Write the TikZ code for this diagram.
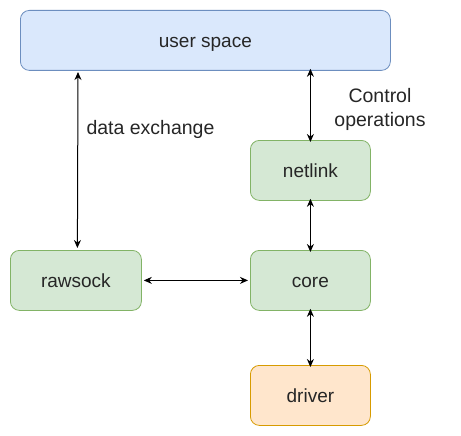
\documentclass[tikz,border=0pt]{standalone}
\usepackage{fontspec}
\setmainfont{Liberation Sans}
\usetikzlibrary{arrows.meta}
\definecolor{bfill}{HTML}{DAE8FC}\definecolor{bline}{HTML}{6C8EBF}
\definecolor{gfill}{HTML}{D5E8D4}\definecolor{gline}{HTML}{82B366}
\definecolor{ofill}{HTML}{FFE6CC}\definecolor{oline}{HTML}{D79B00}
\begin{document}
\begin{tikzpicture}[x=1pt,y=-1pt,
  box/.style={rounded corners=9pt,line width=0.8pt,inner sep=0pt,anchor=north west,
    text height=15pt,text depth=0pt,
    font=\fontsize{19pt}{23pt}\selectfont,text=black!85},
  gbox/.style={box,draw=gline,fill=gfill,minimum width=120pt,minimum height=60pt},
  conn/.style={line width=1pt,{Stealth[length=8pt,width=7pt]}-{Stealth[length=8pt,width=7pt]}},
  lbl/.style={font=\fontsize{19.5pt}{23pt}\selectfont,text=black!85,align=center}]
\useasboundingbox (0,0) rectangle (461,436);
\fill[white] (0,0) rectangle (461,436);
\node[box,draw=bline,fill=bfill,minimum width=370pt,minimum height=60pt] (user) at (20,10) {user space};
\node[gbox] (netlink) at (250,140) {netlink};
\node[gbox] (core) at (250,250) {core};
\node[gbox,minimum width=131pt] (rawsock) at (10,250) {rawsock};
\node[box,draw=oline,fill=ofill,minimum width=120pt,minimum height=60pt] (driver) at (250,365) {driver};
\coordinate (dxtop) at (78,70);
\draw[conn] ([yshift=-2pt]dxtop) -- ([xshift=1.5pt,yshift=2pt]rawsock.north);
\draw[conn] ([yshift=2pt]user.south -| netlink.north) -- ([yshift=-2pt]netlink.north);
\draw[conn] ([yshift=2pt]netlink.south) -- ([yshift=-2pt]core.north);
\draw[conn] ([yshift=2pt]core.south) -- ([yshift=-2pt]driver.north);
\draw[conn] ([xshift=2pt]rawsock.east) -- ([xshift=-2pt]core.west);
\node[lbl,anchor=west] (dx) at (83,129) {data exchange};
\node[lbl,anchor=center,font=\fontsize{19.5pt}{24pt}\selectfont] (ctl) at (380,109) {Control\\operations};
\end{tikzpicture}
\end{document}
